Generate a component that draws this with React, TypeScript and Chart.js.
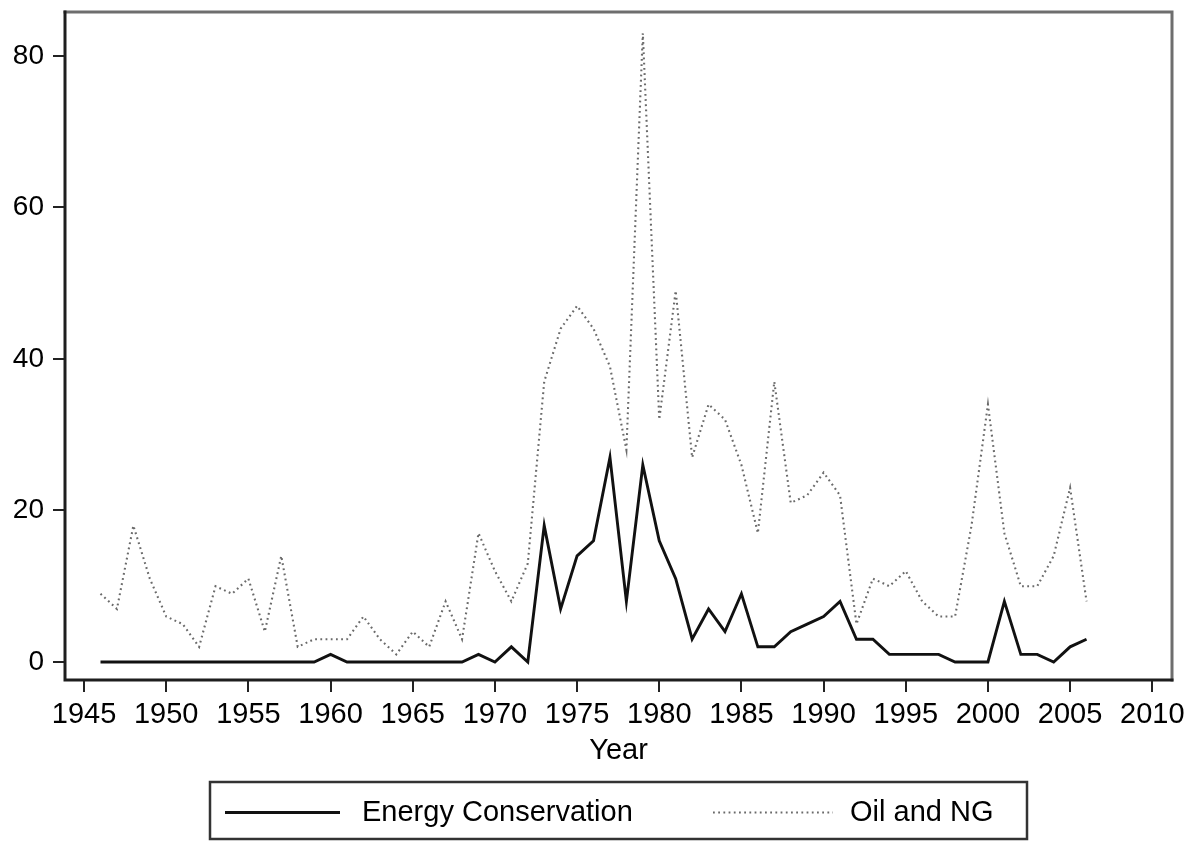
import React, { useEffect, useRef } from "react";
import { Chart, registerables } from "chart.js";

Chart.register(...registerables);

const years = [
  1946, 1947, 1948, 1949, 1950, 1951, 1952, 1953, 1954, 1955,
  1956, 1957, 1958, 1959, 1960, 1961, 1962, 1963, 1964, 1965,
  1966, 1967, 1968, 1969, 1970, 1971, 1972, 1973, 1974, 1975,
  1976, 1977, 1978, 1979, 1980, 1981, 1982, 1983, 1984, 1985,
  1986, 1987, 1988, 1989, 1990, 1991, 1992, 1993, 1994, 1995,
  1996, 1997, 1998, 1999, 2000, 2001, 2002, 2003, 2004, 2005,
  2006,
];

const energyConservation = [
  0, 0, 0, 0, 0, 0, 0, 0, 0, 0,
  0, 0, 0, 0, 1, 0, 0, 0, 0, 0,
  0, 0, 0, 1, 0, 2, 0, 18, 7, 14,
  16, 27, 8, 26, 16, 11, 3, 7, 4, 9,
  2, 2, 4, 5, 6, 8, 3, 3, 1, 1,
  1, 1, 0, 0, 0, 8, 1, 1, 0, 2,
  3,
];

const oilAndNG = [
  9, 7, 18, 11, 6, 5, 2, 10, 9, 11,
  4, 14, 2, 3, 3, 3, 6, 3, 1, 4,
  2, 8, 3, 17, 12, 8, 13, 37, 44, 47,
  44, 39, 28, 83, 32, 49, 27, 34, 32, 26,
  17, 37, 21, 22, 25, 22, 5, 11, 10, 12,
  8, 6, 6, 18, 34, 17, 10, 10, 14, 23,
  8,
];

const xTickValues = [1945, 1950, 1955, 1960, 1965, 1970, 1975, 1980, 1985, 1990, 1995, 2000, 2005, 2010];
const yTickValues = [0, 20, 40, 60, 80];

const seriesLabels = ["Energy Conservation", "Oil and NG"];
const xTitle = "Year";

const FONT = "'Liberation Sans', Arial, Helvetica, sans-serif";

const framePlugin = {
  id: "frame",
  afterDraw(chart: any) {
    const { ctx, chartArea } = chart;
    const { left, right, top, bottom } = chartArea;
    ctx.save();
    ctx.lineCap = "square";
    ctx.strokeStyle = "#6e6e6e";
    ctx.lineWidth = 3;
    ctx.beginPath();
    ctx.moveTo(left, top);
    ctx.lineTo(right, top);
    ctx.lineTo(right, bottom);
    ctx.stroke();
    ctx.strokeStyle = "#1e1e1e";
    ctx.beginPath();
    ctx.moveTo(left, top);
    ctx.lineTo(left, bottom);
    ctx.lineTo(right, bottom);
    ctx.stroke();
    ctx.restore();

    // legend box
    const ds = chart.data.datasets;
    const bx = 210, by = 782, bw = 817, bh = 57;
    ctx.save();
    ctx.strokeStyle = "#333";
    ctx.lineWidth = 2.5;
    ctx.strokeRect(bx, by, bw, bh);
    const cy = by + bh / 2 + 2;
    const items = [
      { x0: 225, x1: 340, tx: 362 },
      { x0: 713, x1: 833, tx: 850 },
    ];
    items.forEach((it, i) => {
      const d = ds[i];
      ctx.save();
      ctx.strokeStyle = d.borderColor;
      ctx.lineWidth = d.borderWidth;
      ctx.setLineDash(d.borderDash || []);
      ctx.beginPath();
      ctx.moveTo(it.x0, cy);
      ctx.lineTo(it.x1, cy);
      ctx.stroke();
      ctx.restore();
      ctx.fillStyle = "#000";
      ctx.font = `29px ${FONT}`;
      ctx.textBaseline = "middle";
      ctx.textAlign = "left";
      ctx.fillText(d.label, it.tx, cy);
    });
    ctx.restore();
  },
};

export default function App() {
  const ref = useRef<HTMLCanvasElement | null>(null);

  useEffect(() => {
    if (!ref.current) return;
    const chart = new Chart(ref.current, {
      type: "line",
      data: {
        datasets: [
          {
            label: seriesLabels[0],
            data: years.map((yr, i) => ({ x: yr, y: energyConservation[i] })),
            borderColor: "#111",
            borderWidth: 2.9,
            pointRadius: 0,
            tension: 0,
            fill: false,
          },
          {
            label: seriesLabels[1],
            data: years.map((yr, i) => ({ x: yr, y: oilAndNG[i] })),
            borderColor: "#6a6a6a",
            borderWidth: 2.1,
            borderDash: [1.8, 3.4],
            pointRadius: 0,
            tension: 0,
            fill: false,
          },
        ],
      },
      options: {
        responsive: false,
        animation: false,
        layout: { padding: { left: 0, top: 12, right: 21, bottom: 0 } },
        plugins: {
          legend: { display: false },
          tooltip: { enabled: false },
        },
        scales: {
          x: {
            type: "linear",
            min: 1943.84,
            max: 2011.2,
            afterBuildTicks: (scale: any) => {
              scale.ticks = xTickValues.map((v) => ({ value: v }));
            },
            afterFit: (scale: any) => {
              scale.height = 161;
              scale.paddingLeft = 0;
              scale.paddingRight = 0;
            },
            grid: {
              drawOnChartArea: false,
              drawTicks: true,
              tickLength: 12,
              color: "#222",
              lineWidth: 2,
            },
            border: { display: false },
            ticks: {
              autoSkip: false,
              maxRotation: 0,
              padding: 6,
              color: "#000",
              font: { family: FONT, size: 29 },
              callback: (v: any) => String(v),
            },
            title: {
              display: true,
              text: xTitle,
              color: "#000",
              font: { family: FONT, size: 29 },
              padding: { top: 0, bottom: 73 },
            },
          },
          y: {
            type: "linear",
            min: -2.38,
            max: 85.8,
            afterBuildTicks: (scale: any) => {
              scale.ticks = yTickValues.map((v) => ({ value: v }));
            },
            afterFit: (scale: any) => {
              scale.width = 65;
              scale.paddingTop = 0;
              scale.paddingBottom = 0;
            },
            grid: {
              drawOnChartArea: false,
              drawTicks: true,
              tickLength: 12,
              color: "#222",
              lineWidth: 2,
            },
            border: { display: false },
            ticks: {
              padding: 9,
              color: "#000",
              font: { family: FONT, size: 28 },
              callback: (v: any) => String(v),
            },
          },
        },
      },
      plugins: [framePlugin],
    });
    return () => chart.destroy();
  }, []);

  return (
    <div style={{ position: "absolute", left: 0, top: 0, width: 1193, height: 841, background: "#fff" }}>
      <canvas ref={ref} width={1193} height={841} style={{ display: "block" }} />
    </div>
  );
}
